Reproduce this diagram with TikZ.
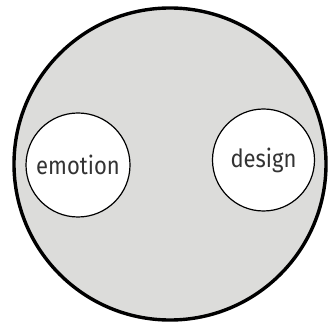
\documentclass[tikz,border=0pt]{standalone}
\usepackage{fontspec}
\newfontfamily\bubblefont[FakeStretch=0.88]{Fira Sans}
\definecolor{dishgray}{HTML}{DCDCDA}
\definecolor{inkgray}{HTML}{333333}
\begin{document}
\begin{tikzpicture}[x=1pt,y=-1pt,every node/.style={inner sep=0pt}]
\tikzstyle{bubble}=[draw,circle,fill=white,line width=1.2pt,minimum size=104pt,font=\bubblefont\fontsize{25}{25}\selectfont,text=inkgray]
\useasboundingbox (0,0) rectangle (331,328);
\node[circle,draw,line width=3.4pt,fill=dishgray,minimum size=312pt](whole) at (170,164){};

\node[bubble](emo) at (78,165){emotion};
\node[bubble,minimum size=102pt](des) at (263.5,160){design};
\end{tikzpicture}
\end{document}
